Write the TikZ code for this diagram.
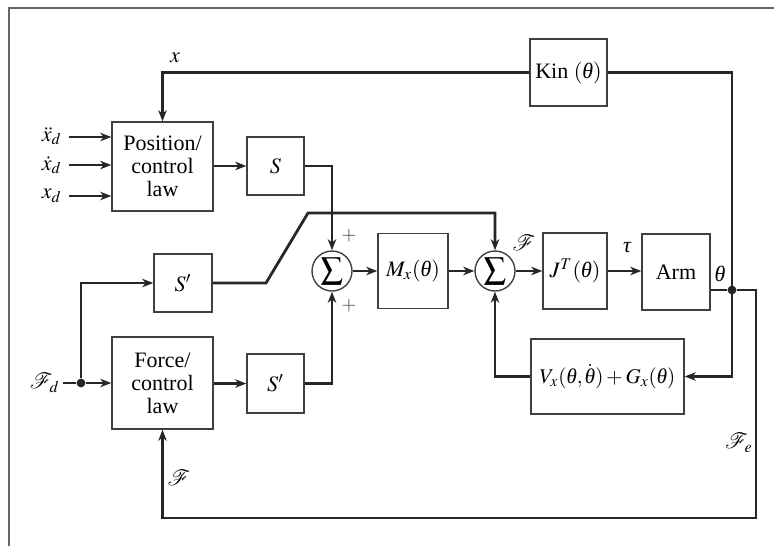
\documentclass[tikz,border=0pt]{standalone}
\usepackage{mathptmx}
\usepackage{fontspec}
\setmainfont{Liberation Serif}
\usetikzlibrary{arrows.meta}
\newcommand{\thi}{\mbox{\itshape θ}}
\newcommand{\taui}{\mbox{\itshape τ}}
\begin{document}
\begin{tikzpicture}[x=0.5pt,y=-0.5pt, font=\fontsize{11}{11.5}\selectfont,
 blk/.style={draw=black!75, line width=0.7pt, align=center, inner sep=0pt},
 sumnode/.style={circle, draw=black!75, line width=0.7pt, minimum size=20pt, inner sep=0pt},
 conn/.style={line width=1.4pt, draw=black!85},
 arr/.style={conn, -{Stealth[length=5.5pt,width=4.2pt,inset=1.6pt]}},
 dotn/.style={circle, fill=black!85, minimum size=4.4pt, inner sep=0pt},
 lbl/.style={inner sep=0pt},
 plus/.style={inner sep=0pt, text=black!75, font=\fontsize{9.5}{10}\selectfont}]
\useasboundingbox (0,0) rectangle (774,546);
\draw[black!60, line width=0.6pt] (774,8) -- (9,8) -- (9,546);
% blocks
\node[blk, minimum width=50.5pt, minimum height=44.5pt] (pos) at (162.5,166.5) {Position/\\control\\law};
\node[blk, minimum width=28.5pt, minimum height=29pt] (S) at (275.5,166) {$S$};
\node[blk, minimum width=29pt, minimum height=29pt] (Sp1) at (183,283) {$S'$};
\node[blk, minimum width=50.5pt, minimum height=46pt] (force) at (162.5,383) {Force/\\control\\law};
\node[blk, minimum width=28.5pt, minimum height=29.5pt] (Sp2) at (275.5,383.5) {$S'$};
\node[sumnode] (sum1) at (332,271) {$\displaystyle\sum$};
\node[blk, minimum width=35pt, minimum height=37.5pt] (Mx) at (413,271) {$M_x(\thi)$};
\node[sumnode] (sum2) at (495,271) {$\displaystyle\sum$};
\node[blk, minimum width=32pt, minimum height=38pt] (JT) at (575,271) {$J^T(\thi)$};
\node[blk, minimum width=34pt, minimum height=38pt] (arm) at (676,272) {Arm};
\node[blk, minimum width=38.5pt, minimum height=33.5pt] (kin) at (568.5,72.5) {Kin $(\thi)$};
\node[blk, minimum width=76.5pt, minimum height=37.5pt, font=\fontsize{10.5}{11}\selectfont] (V) at (607.5,376.5) {$V_x(\thi,\dot{\thi})+G_x(\thi)$};
% labels
\node[lbl, anchor=east] (l1) at (62,136) {$\ddot{x}_d$};
\node[lbl, anchor=east] (l2) at (62,165) {$\dot{x}_d$};
\node[lbl, anchor=east] (l3) at (62,196) {$x_d$};
\node[lbl, anchor=east] (lfd) at (60,383) {$\mathcal{F}_d$};
\node[lbl] (lx) at (175,58) {$x$};
\node[plus] (lp1) at (349,236) {$+$};
\node[plus] (lp2) at (349,306) {$+$};
\node[lbl] (lF2) at (524,243) {$\mathcal{F}$};
\node[lbl] (ltau) at (627,248) {$\taui$};
\node[lbl] (lth) at (720,274) {$\thi$};
\node[lbl] (lFe) at (739,443) {$\mathcal{F}_e$};
\node[lbl] (lF) at (179,478) {$\mathcal{F}$};
% coordinates
\coordinate (i1) at (69,137);
\coordinate (i2) at (69,165);
\coordinate (i3) at (69,196);
\coordinate (ifd) at (63,383);
\node[dotn] (d1) at (81,383) {};
\node[dotn] (d2) at (732,290) {};
% connectors
\draw[arr] (i1) -- (i1 -| pos.west);
\draw[arr] (i2) -- (i2 -| pos.west);
\draw[arr] (i3) -- (i3 -| pos.west);
\draw[arr] (pos.east |- S) -- (S.west);
\draw[arr] (S.east) -| (sum1.north);
\draw[conn] (ifd) -- (d1);
\draw[arr] (d1) -- (force.west);
\draw[arr] (d1) |- (Sp1.west);
\draw[arr] (Sp1.east) -- (266,283) -- (308,213) -| (sum2.north);
\draw[arr] (force.east |- Sp2) -- (Sp2.west);
\draw[arr] (Sp2.east) -| (sum1.south);
\draw[arr] (sum1.east) -- (Mx.west);
\draw[arr] (Mx.east) -- (sum2.west);
\draw[arr] (sum2.east) -- (JT.west);
\draw[arr] (JT.east) -- (JT.east -| arm.west);
\draw[arr] (kin.west) -| (pos.north);
\draw[arr] (kin.east) -| (d2.center) |- (V.east);
\draw[conn] (arm.east |- d2) -- (d2);
\draw[arr] (V.west) -| (sum2.south);
\draw[arr] (d2) -- (756,290) -- (756,518) -| (force.south);
\end{tikzpicture}
\end{document}
